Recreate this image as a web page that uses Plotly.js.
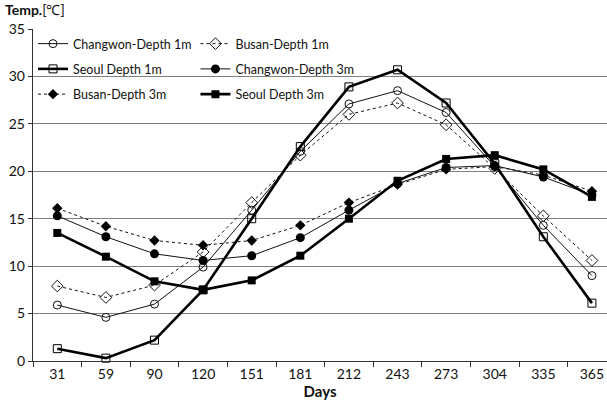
<!DOCTYPE html>
<html><head><meta charset="utf-8">
<script src="https://cdn.plot.ly/plotly-3.0.1.min.js"></script>
<style>body{margin:0;background:#fff}#chart{width:607px;height:402px}</style>
</head><body><div id="chart"></div>
<script>
const days = ['31','59','90','120','151','181','212','243','273','304','335','365'];
const changwon1m = [5.9, 4.6, 6.0, 9.9, 15.9, 22.1, 27.1, 28.5, 26.2, 20.5, 14.3, 9.0];
const busan1m    = [7.9, 6.7, 8.0, 11.5, 16.7, 21.7, 26.0, 27.2, 24.9, 20.3, 15.3, 10.6];
const seoul1m    = [1.3, 0.3, 2.2, 7.5, 15.0, 22.6, 28.9, 30.7, 27.2, 20.8, 13.1, 6.1];
const changwon3m = [15.3, 13.1, 11.3, 10.6, 11.1, 13.0, 15.9, 18.7, 20.4, 20.6, 19.4, 17.5];
const busan3m    = [16.1, 14.2, 12.7, 12.2, 12.7, 14.3, 16.7, 18.6, 20.2, 20.5, 19.6, 17.9];
const seoul3m    = [13.5, 11.0, 8.4, 7.5, 8.5, 11.1, 15.0, 19.0, 21.3, 21.7, 20.2, 17.3];

const names = ['Changwon-Depth 1m','Busan-Depth 1m','Seoul Depth 1m','Changwon-Depth 3m','Busan-Depth 3m','Seoul Depth 3m'];
const series = [changwon1m, busan1m, seoul1m, changwon3m, busan3m, seoul3m];
const styles = [
  {line:{color:'#111',width:1,dash:'solid'}, marker:{symbol:'circle-open',size:8,color:'#111',line:{width:1}}, legend:'legend'},
  {line:{color:'#111',width:1,dash:'dot'}, marker:{symbol:'diamond-open',size:9,color:'#111',line:{width:1}}, legend:'legend2'},
  {line:{color:'#000',width:2.6,dash:'solid'}, marker:{symbol:'square-open',size:8,color:'#000',line:{width:1}}, legend:'legend'},
  {line:{color:'#111',width:1,dash:'solid'}, marker:{symbol:'circle',size:9,color:'#000'}, legend:'legend2'},
  {line:{color:'#111',width:1,dash:'dot'}, marker:{symbol:'diamond',size:8,color:'#000'}, legend:'legend'},
  {line:{color:'#000',width:2.6,dash:'solid'}, marker:{symbol:'square',size:8,color:'#000'}, legend:'legend2'}
];
const traces = series.map((s,i)=>({
  x: days, y: s, name: names[i], type:'scatter', mode:'lines+markers',
  line: styles[i].line, marker: styles[i].marker, legend: styles[i].legend,
  legendgroup: 'g'+i, cliponaxis:false
}));
const fam = 'Lato, "Open Sans", sans-serif';
const font = {family:fam, size:14, color:'#111'};
const legendBase = {orientation:'v', bgcolor:'rgba(0,0,0,0)', borderwidth:0,
  font:{family:fam,size:12.5,color:'#111'}, tracegroupgap:6, traceorder:'grouped', yanchor:'top', xanchor:'left'};
const layout = {
  width:607, height:402,
  margin:{l:33, r:0, t:29, b:41},
  paper_bgcolor:'#fff', plot_bgcolor:'#fff',
  font: font,
  showlegend:true,
  legend: Object.assign({}, legendBase, {x:0.0, y:1.0}),
  legend2: Object.assign({}, legendBase, {x:0.283, y:1.0}),
  xaxis:{
    type:'category', range:[-0.5, 11.31], showgrid:false,
    showline:true, linecolor:'#333', linewidth:1.2,
    ticks:'outside', tickson:'boundaries', ticklen:5, tickcolor:'#333',
    tickfont:{family:fam,size:14,color:'#111'},
    title:{text:'<b>Days</b>', font:{family:fam,size:15,color:'#111'}, standoff:0}
  },
  yaxis:{
    range:[0,35], dtick:5, showgrid:true, gridcolor:'#7f7f7f', gridwidth:1,
    showline:true, linecolor:'#333', linewidth:1.2, zeroline:false,
    ticks:'outside', ticklen:4, tickcolor:'#333',
    tickfont:{family:fam,size:14,color:'#111'}
  },
  annotations:[{
    text:'<b>Temp.</b>[℃]', xref:'paper', yref:'paper', x:-0.052, y:1.0, yshift:9,
    xanchor:'left', yanchor:'bottom', showarrow:false,
    font:{family:fam,size:14,color:'#111'}
  }]
};
Plotly.newPlot('chart', traces, layout, {displayModeBar:false, staticPlot:true});
</script></body></html>
